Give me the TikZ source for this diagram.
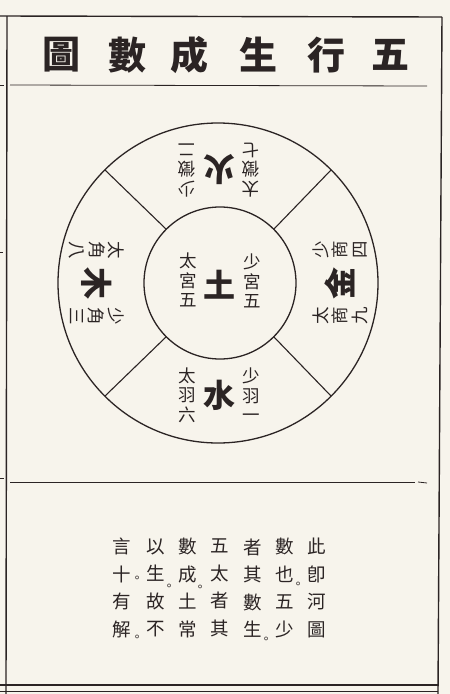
\documentclass[tikz,border=0pt]{standalone}
\usepackage{fontspec}
\newfontfamily\cjk{Noto Sans CJK TC}
\definecolor{ink}{HTML}{2B2424}
\definecolor{paper}{HTML}{F7F4EC}
\tikzset{
  frameline/.style={draw=ink, line width=1.4pt},
  thinline/.style={draw=ink, line width=0.8pt},
  ring/.style={circle, draw=ink, line width=1.3pt, inner sep=0pt, outer sep=0pt},
  spoke/.style={draw=ink, line width=1.1pt},
  titlech/.style={font=\cjk\bfseries\fontsize{38}{38}\selectfont, text=ink, inner sep=0pt},
  bigch/.style={font=\cjk\bfseries\fontsize{32}{32}\selectfont, text=ink, inner sep=0pt},
  colch/.style={font=\cjk\fontsize{17.5}{19.5}\selectfont, text=ink, inner sep=0pt, align=center},
  notech/.style={font=\cjk\fontsize{18.5}{27.5}\selectfont, text=ink, inner sep=0pt, align=center},
  stopmark/.style={font=\cjk\fontsize{12}{12}\selectfont, text=ink, inner sep=0pt},
}
\newcommand\wxsector[7]{%
  \begin{scope}[shift={(219,283)}, rotate=#1]
    \node[bigch, transform shape] (#3) at (0,#2) {#4};
    \node[colch, transform shape] (#3tai) at (-#7,#2) {#5};
    \node[colch, transform shape] (#3shao) at (#7,#2) {#6};
  \end{scope}}
\newcommand\stopglyph{\makebox[4pt][c]{。}}
\begin{document}
\begin{tikzpicture}[x=1pt, y=-1pt]
  \useasboundingbox (0,0) rectangle (450,694);
  \fill[paper] (0,0) rectangle (450,694);
  % frame
  \draw[frameline] (0,16) -- (442,17);
  \draw[frameline] (7,16) -- (6,694);
  \draw[frameline] (442,17) -- (438,694);
  \draw[frameline] (0,685) -- (438,685);
  \draw[thinline] (0,691) -- (438,691);
  \draw[thinline] (10,85) -- (427,86);
  \draw[thinline] (10,482) -- (415,482);
  \draw[thinline] (418,482) -- (427,483);
  \draw[thinline] (0,85) -- (4,85);
  \draw[thinline] (0,252) -- (3,252);
  \draw[thinline] (0,478) -- (4,478);
  % title
  \node[titlech] (t1) at (390,55) {五};
  \node[titlech] (t2) at (326,55) {行};
  \node[titlech] (t3) at (258,55) {生};
  \node[titlech] (t4) at (189,55) {成};
  \node[titlech] (t5) at (127,55) {數};
  \node[titlech] (t6) at (61,55) {圖};
  % circles
  \node[ring, minimum size=320pt] (outer) at (218,283) {};
  \node[ring, minimum size=152pt] (inner) at (220,283) {};
  \foreach \a in {45,135,225,315} \draw[spoke] (inner.\a) -- (outer.\a);
  % centre
  \node[bigch] (tu) at (219,285) {土};
  \node[colch] (tutai) at (188,280) {太\\宮\\五};
  \node[colch] (tushao) at (252,281) {少\\宮\\五};
  % sectors
  \wxsector{0}{112}{shui}{水}{太\\羽\\六}{少\\羽\\一}{32}
  \wxsector{180}{113}{huo}{火}{太\\徵\\七}{少\\徵\\二}{32}
  \wxsector{90}{121}{jin}{金}{太\\商\\九}{少\\商\\四}{33}
  \wxsector{-90}{122}{mu}{木}{太\\角\\八}{少\\角\\三}{33}
  % note
  \node[notech] (n1) at (317,588) {此\\卽\\河\\圖};
  \node[notech] (n2) at (285,588) {數\\也\\五\\少};
  \node[notech] (n3) at (253,588) {者\\其\\數\\生};
  \node[notech] (n4) at (220,588) {五\\太\\者\\其};
  \node[notech] (n5) at (188,588) {數\\成\\土\\常};
  \node[notech] (n6) at (156,588) {以\\生\\故\\不};
  \node[notech] (n7) at (122,588) {言\\十\\有\\解};
  \node[stopmark] (p1) at (298,585) {\stopglyph};
  \node[stopmark] (p2) at (266,640) {\stopglyph};
  \node[stopmark] (p3) at (200,588) {\stopglyph};
  \node[stopmark] (p4) at (169,587) {\stopglyph};
  \node[stopmark] (p5) at (137,579) {\stopglyph};
  \node[stopmark] (p6) at (137,638) {\stopglyph};
\end{tikzpicture}
\end{document}
